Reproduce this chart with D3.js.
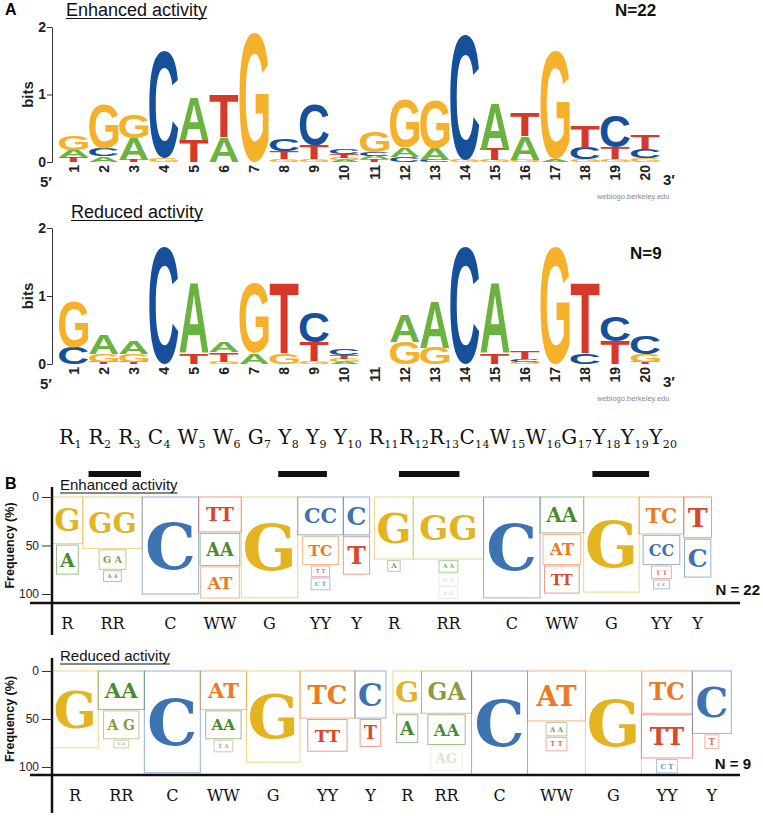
<!DOCTYPE html>
<html><head><meta charset="utf-8">
<script src="https://cdn.jsdelivr.net/npm/d3@7"></script>
<style>body{margin:0;background:#fff}svg{display:block}</style>
</head><body>
<svg id="c" width="763" height="816"></svg>
<script>
// ---------------- DATA ----------------
const positions = d3.range(1, 21);
const bitTicks = [0, 1, 2];
const freqTicks = [0, 50, 100];

// sequence logo stacks, bottom -> top, [letter, bits]
const enhancedLogo = [
  [["T",0.07],["A",0.11],["G",0.21]],
  [["A",0.08],["C",0.12],["G",0.66]],
  [["T",0.03],["A",0.32],["G",0.35]],
  [["G",0.05],["C",1.59]],
  [["T",0.33],["A",0.63]],
  [["A",0.37],["T",0.63]],
  [["G",1.91]],
  [["G",0.04],["T",0.12],["C",0.17]],
  [["G",0.04],["T",0.2],["C",0.61]],
  [["A",0.03],["G",0.03],["T",0.06],["C",0.07]],
  [["T",0.04],["A",0.05],["C",0.05],["G",0.32]],
  [["C",0.08],["A",0.13],["G",0.73]],
  [["C",0.03],["A",0.17],["G",0.73]],
  [["G",0.04],["C",1.85]],
  [["G",0.03],["T",0.17],["A",0.67]],
  [["G",0.03],["A",0.35],["T",0.34]],
  [["A",0.04],["G",1.6]],
  [["G",0.04],["C",0.17],["T",0.32]],
  [["G",0.04],["T",0.17],["C",0.47]],
  [["G",0.06],["C",0.14],["T",0.2]]
];
const reducedLogo = [
  [["C",0.24],["G",0.68]],
  [["T",0.03],["G",0.12],["A",0.28]],
  [["T",0.03],["G",0.12],["A",0.18]],
  [["C",1.73]],
  [["T",0.16],["A",1.03]],
  [["G",0.03],["T",0.14],["A",0.16]],
  [["A",0.16],["G",1.03]],
  [["G",0.16],["T",1.03]],
  [["G",0.04],["T",0.28],["C",0.45]],
  [["A",0.03],["G",0.05],["T",0.05],["C",0.09]],
  [],
  [["G",0.33],["A",0.39]],
  [["G",0.24],["A",0.68]],
  [["C",1.73]],
  [["T",0.16],["A",1.03]],
  [["G",0.03],["C",0.04],["T",0.11]],
  [["G",1.73]],
  [["C",0.16],["T",1.03]],
  [["T",0.34],["C",0.36]],
  [["T",0.03],["G",0.11],["C",0.26]]
];

const consensus = ["R","R","R","C","W","W","G","Y","Y","Y","R","R","R","C","W","W","G","Y","Y","Y"];
const underlinedPairs = [[2,3],[8,9],[12,13],[18,19]];

// frequency panels: groups of [label, frequency %], top -> bottom
const groupLabels = ["R","RR","C","WW","G","YY","Y","R","RR","C","WW","G","YY","Y"];
const enhancedBoxes = [
  [["G",48],["A",30]],
  [["GG",53],["G A",20],["A A",11]],
  [["C",100]],
  [["TT",36],["AA",33],["AT",32]],
  [["G",104]],
  [["CC",39],["TC",29],["T T",11],["C T",12]],
  [["C",39],["T",39]],
  [["G",64],["A",11]],
  [["GG",64],["A A",12],["G A",12],["A G",12]],
  [["C",104]],
  [["AA",37],["AT",31],["TT",28]],
  [["G",98]],
  [["TC",38],["CC",30],["T T",13],["C C",9]],
  [["T",42],["C",39]]
];
const reducedBoxes = [
  [["G",80]],
  [["AA",40],["A G",29],["G A",8]],
  [["C",106]],
  [["AT",40],["AA",29],["T A",12]],
  [["G",95]],
  [["TC",49],["TT",33]],
  [["C",49],["T",28]],
  [["G",44],["A",29]],
  [["GA",44],["AA",31],["AG",25]],
  [["C",108]],
  [["AT",52],["A A",14],["T T",14]],
  [["G",108]],
  [["TC",44],["TT",45],["C T",14]],
  [["C",65],["T",14]]
];
const enhancedN = 22, reducedN = 9;

// ---------------- STYLE ----------------
const logoColor = {A:"#6BB33F", C:"#17509A", G:"#F5B12A", T:"#D6382A"};
const boxColor = {G:"#E3B41F", C:"#3D72B3", A:"#4A8A2C", T:"#D9482B", O:"#EC7A21", L:"#8C9B3E"};
const mixColor = {AT:"O", TA:"L", TC:"O", CT:"C", GA:"L", AG:"L"};
const fadedBoxes = {enhanced:["8-2","8-3"], reduced:["8-2"]};
const SANS = "'Liberation Sans', Arial, Helvetica, sans-serif";
const SLAB = "'DejaVu Serif', serif";

const svg = d3.select("#c");

// glyph metrics for stretched logo letters
const ctx = document.createElement("canvas").getContext("2d");
ctx.font = "bold 100px 'Liberation Sans'";
const glyph = {};
"ACGT".split("").forEach(L => {
  const m = ctx.measureText(L);
  glyph[L] = {l: m.actualBoundingBoxLeft, r: m.actualBoundingBoxRight, a: m.actualBoundingBoxAscent, d: m.actualBoundingBoxDescent};
});

const x = d3.scaleBand().domain(positions).range([59, 660]).paddingInner(0.03);
const axisX = 52;

svg.append("text").attr("x", 5).attr("y", 15).text("A")
  .attr("font-family", SANS).attr("font-weight", "bold").attr("font-size", 16);

function drawLogo(cfg) {
  const y = d3.scaleLinear().domain([0, 2]).range([cfg.base, cfg.top]);
  const g = svg.append("g");
  const ax = g.append("g").attr("transform", `translate(${axisX},0)`)
    .call(d3.axisLeft(y).tickValues(bitTicks).tickSize(5).tickSizeOuter(0).tickFormat(d3.format("d")));
  ax.select(".domain").attr("stroke", "#333");
  ax.selectAll(".tick line").attr("stroke", "#333");
  ax.selectAll(".tick text").attr("font-family", SANS).attr("font-weight", "bold")
    .attr("font-size", 14).attr("fill", "#222").attr("x", -6);
  g.append("text").attr("transform", `translate(33,${(cfg.base + cfg.top) / 2}) rotate(-90)`)
    .attr("text-anchor", "middle").text("bits")
    .attr("font-family", SANS).attr("font-weight", "bold").attr("font-size", 15).attr("fill", "#222");

  cfg.data.forEach((stack, i) => {
    let cum = 0;
    const gx = x(positions[i]), w = x.bandwidth();
    stack.forEach(([L, b]) => {
      const y0 = y(cum), y1 = y(cum + b);
      cum += b;
      const h = y0 - y1;
      const m = glyph[L];
      const sx = w / (m.l + m.r), sy = h / (m.a + m.d);
      g.append("text").text(L)
        .attr("font-family", "'Liberation Sans'").attr("font-weight", "bold").attr("font-size", 100)
        .attr("fill", logoColor[L])
        .attr("transform", `translate(${gx + m.l * sx},${y1 + m.a * sy}) scale(${sx},${sy})`);
    });
    g.append("text").text(positions[i])
      .attr("transform", `translate(${gx + w / 2 + 5},${cfg.base + 3}) rotate(-90)`)
      .attr("text-anchor", "end").attr("font-family", SANS).attr("font-weight", "bold")
      .attr("font-size", 14).attr("fill", "#222");
  });

  const t = g.append("text").attr("x", cfg.titleX).attr("y", cfg.titleY).text(cfg.title)
    .attr("font-family", SANS).attr("font-size", 18).attr("fill", "#111");
  const tl = t.node().getComputedTextLength();
  g.append("line").attr("x1", cfg.titleX).attr("x2", cfg.titleX + tl)
    .attr("y1", cfg.titleY + 2.5).attr("y2", cfg.titleY + 2.5).attr("stroke", "#111").attr("stroke-width", 1.2);

  g.append("text").attr("x", cfg.nX).attr("y", cfg.nY).text("N=" + cfg.n)
    .attr("font-family", SANS).attr("font-weight", "bold").attr("font-size", 17).attr("fill", "#111");
  g.append("text").attr("x", 40).attr("y", cfg.base + 25).text("5\u2032")
    .attr("font-family", SANS).attr("font-weight", "bold").attr("font-size", 15).attr("fill", "#222");
  g.append("text").attr("x", 663).attr("y", cfg.base + 23).text("3\u2032")
    .attr("font-family", SANS).attr("font-weight", "bold").attr("font-size", 15).attr("fill", "#222");
  g.append("text").attr("x", 597).attr("y", cfg.base + 37).text("weblogo.berkeley.edu")
    .attr("font-family", SANS).attr("font-size", 7.5).attr("fill", "#8a8a8a");
}

drawLogo({data: enhancedLogo, base: 162, top: 27, title: "Enhanced activity", titleX: 66, titleY: 16, n: enhancedN, nX: 615, nY: 16});
drawLogo({data: reducedLogo, base: 364, top: 228, title: "Reduced activity", titleX: 71, titleY: 218, n: reducedN, nX: 630, nY: 259});

// consensus row
const row = svg.append("text").attr("x", 59).attr("y", 444)
  .attr("font-family", SLAB).attr("font-size", 20).attr("fill", "#111");
let ci = 0;
const tokenIdx = {};
consensus.forEach((c, i) => {
  const p = positions[i];
  const sep = (i > 0 && p <= 11) ? " " : "";
  row.append("tspan").text(sep + c).attr("dy", i === 0 ? 0 : -4).attr("font-size", 20);
  const letterIdx = ci + sep.length;
  ci += sep.length + 1;
  const sub = String(p);
  row.append("tspan").text(sub).attr("dy", 4).attr("font-size", 11);
  tokenIdx[p] = {start: letterIdx, end: ci + sub.length - 1};
  ci += sub.length;
});
const natural = row.node().getComputedTextLength();
const nChars = row.node().getNumberOfChars();
row.attr("letter-spacing", (618 - natural) / (nChars - 1));
underlinedPairs.forEach(([a, b]) => {
  const x1 = row.node().getStartPositionOfChar(tokenIdx[a].start).x;
  const x2 = row.node().getEndPositionOfChar(tokenIdx[b].end).x;
  svg.append("rect").attr("x", x1).attr("y", 471).attr("width", x2 - x1).attr("height", 6).attr("fill", "#111");
});

// ---------------- PANEL B ----------------
svg.append("text").attr("x", 5).attr("y", 489).text("B")
  .attr("font-family", SANS).attr("font-weight", "bold").attr("font-size", 16);

function colorOf(label) {
  const s = label.replace(/ /g, "");
  if (s.split("").every(ch => ch === s[0])) return boxColor[s[0]];
  return boxColor[mixColor[s]] || boxColor.L;
}

function drawFreqPanel(cfg) {
  const y = d3.scaleLinear().domain([0, 100]).range([cfg.top0, cfg.y100]);
  const g = svg.append("g");
  let cursor = axisX;
  const groups = cfg.boxes.map((boxes, gi) => {
    if (gi === 7) cursor += cfg.gap;
    let prev = null;
    const items = boxes.map(([label, f], bi) => {
      const y0 = prev === null ? y(0) : prev + 1.5;
      const h = y(f) - y(0);
      prev = y0 + h;
      const n = label.replace(/ /g, "").length;
      const hw = y(Math.min(f, 100)) - y(0);
      const w = n * hw * 0.51 + 7;
      return {label, f, y0, h, hw, w, n, bi};
    });
    const W = d3.max(items, d => d.w);
    const gx = cursor;
    cursor += W;
    return {gx, W, items, gi};
  });

  groups.forEach(gr => {
    gr.items.forEach(d => {
      const col = colorOf(d.label);
      const faded = cfg.faded.includes(gr.gi + "-" + d.bi);
      const op = faded ? 0.3 : (d.f < 15 ? 0.8 : 1);
      const bx = gr.gx + (gr.W - d.w) / 2;
      g.append("rect").attr("x", bx).attr("y", d.y0).attr("width", d.w).attr("height", d.h)
        .attr("fill", "none").attr("stroke", col).attr("stroke-opacity", 0.55 * op).attr("stroke-width", 1);
      const fs = d.n === 1 ? 0.66 * d.hw : (d.label.includes(" ") ? 0.5 * d.hw : 0.55 * d.hw);
      g.append("text").attr("x", gr.gx + gr.W / 2).attr("y", d.y0 + d.h / 2 + 0.36 * fs)
        .attr("text-anchor", "middle").text(d.label)
        .attr("font-family", SLAB).attr("font-weight", "bold").attr("font-size", fs)
        .attr("fill", col).attr("fill-opacity", op);
    });
    g.append("text").attr("x", gr.gx + gr.W / 2).attr("y", cfg.axisY + 26)
      .attr("text-anchor", "middle").text(groupLabels[gr.gi])
      .attr("font-family", SLAB).attr("font-size", 16).attr("fill", "#111");
  });

  // axes
  g.append("line").attr("x1", axisX).attr("x2", axisX).attr("y1", cfg.vTop).attr("y2", cfg.vBottom)
    .attr("stroke", "#111").attr("stroke-width", 2.5);
  g.append("line").attr("x1", 30).attr("x2", 740).attr("y1", cfg.axisY).attr("y2", cfg.axisY)
    .attr("stroke", "#111").attr("stroke-width", 2.5);
  const ax = g.append("g").attr("transform", `translate(${axisX},0)`)
    .call(d3.axisLeft(y).tickValues(freqTicks).tickSize(10));
  ax.select(".domain").remove();
  ax.selectAll(".tick line").attr("stroke", "#333");
  ax.selectAll(".tick text").attr("font-family", SANS).attr("font-size", 12).attr("fill", "#222").attr("x", -13);
  g.append("text").attr("transform", `translate(14,${(cfg.top0 + cfg.y100) / 2}) rotate(-90)`)
    .attr("text-anchor", "middle").text("Frequency (%)")
    .attr("font-family", SANS).attr("font-weight", "bold").attr("font-size", 12.5).attr("fill", "#111");

  const t = g.append("text").attr("x", 60).attr("y", cfg.titleY).text(cfg.title)
    .attr("font-family", SANS).attr("font-size", 15).attr("fill", "#111");
  const tl = t.node().getComputedTextLength();
  g.append("line").attr("x1", 60).attr("x2", 60 + tl).attr("y1", cfg.titleY + 3).attr("y2", cfg.titleY + 3)
    .attr("stroke", "#111").attr("stroke-width", 1);
  g.append("text").attr("x", cfg.nX).attr("y", cfg.nY).attr("text-anchor", "end").text("N = " + cfg.n)
    .attr("font-family", SANS).attr("font-weight", "bold").attr("font-size", 15).attr("fill", "#111");
}

drawFreqPanel({boxes: enhancedBoxes, top0: 497, y100: 594, axisY: 603, vTop: 487, vBottom: 635, gap: 5,
  title: "Enhanced activity", titleY: 490, n: enhancedN, nX: 760, nY: 595, faded: fadedBoxes.enhanced});
drawFreqPanel({boxes: reducedBoxes, top0: 671, y100: 767, axisY: 775, vTop: 658, vBottom: 813, gap: 7,
  title: "Reduced activity", titleY: 661, n: reducedN, nX: 751, nY: 769, faded: fadedBoxes.reduced});
</script>
</body></html>
